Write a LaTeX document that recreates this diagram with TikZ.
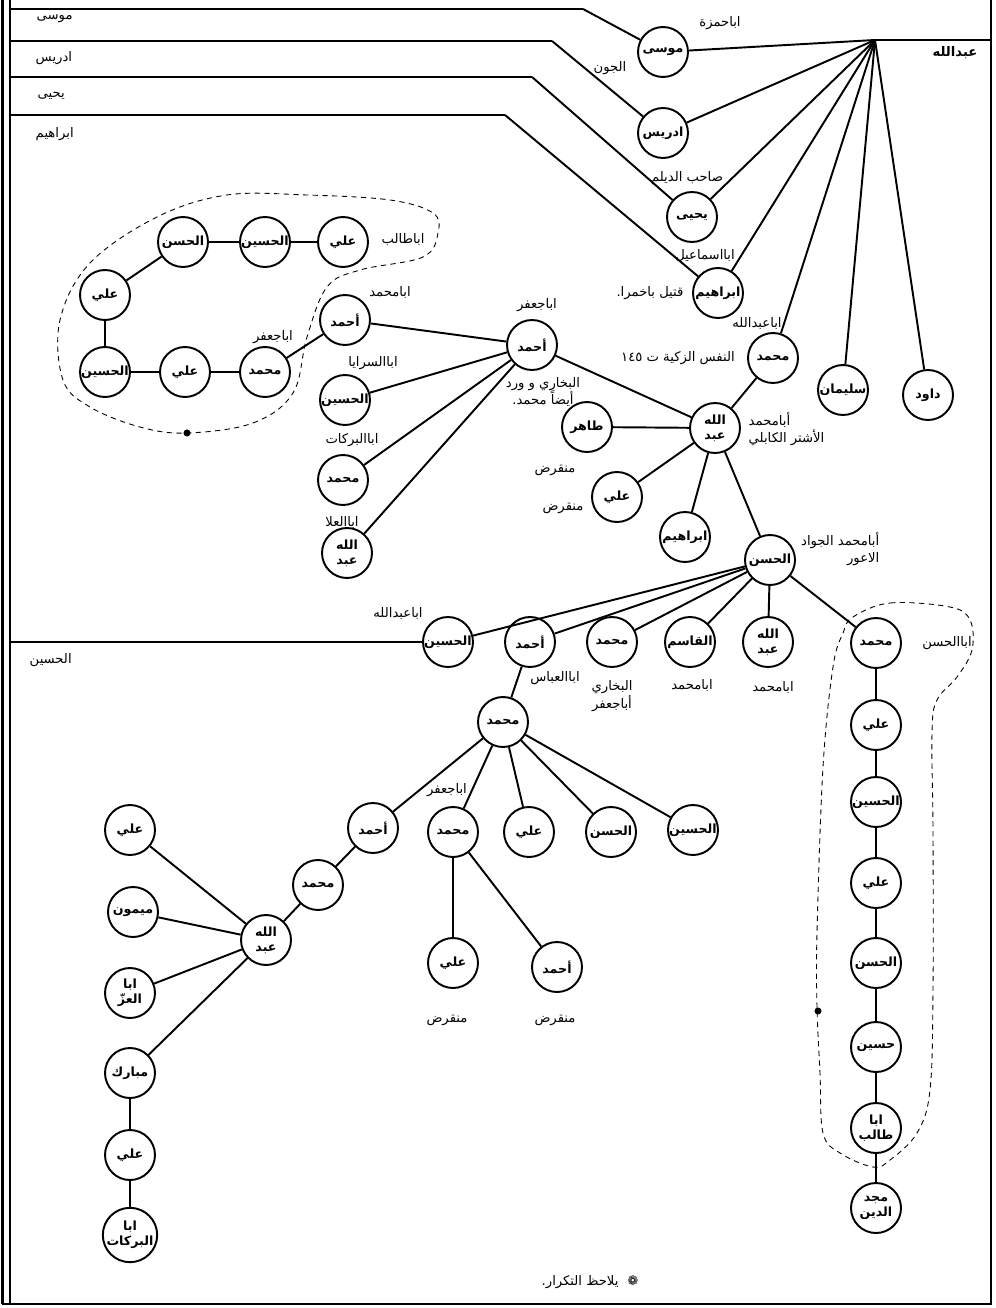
\documentclass[tikz,border=0pt]{standalone}
\usepackage{fontspec}
\newfontfamily\arabicfont[Script=Arabic]{DejaVu Sans}
\TeXXeTstate=1
\newcommand\ar[1]{\beginR#1\endR}

\begin{document}
\begin{tikzpicture}[x=0.02cm, y=-0.02cm, line width=1.1pt,
  every node/.style={draw, circle, minimum size=1cm, inner sep=0pt, align=center,
    font=\arabicfont\bfseries\fontsize{7.2}{8.5}\selectfont},
  lbl/.style={draw=none, rectangle, minimum size=0pt, inner sep=1pt,
    font=\arabicfont\fontsize{7.5}{10}\selectfont},
  grp/.style={line width=0.5pt, dash pattern=on 3pt off 2.5pt}]

\useasboundingbox (0,0) rectangle (996,1308);
\draw[line width=2pt] (2.5,0) -- (2.5,1304);
\draw[line width=0.7pt] (10,0) -- (10,1304);
\draw[line width=0.8pt] (2,1304) -- (991,1304) -- (991,0);

\coordinate (hub) at (875,40); \coordinate (hubE) at (991,40);
\node (mosa) at (663,52) {\ar{موسى}};      \node[lbl] at (720,23) {\ar{اباحمزة}};
\node (idris) at (663,133) {\ar{ادريس}};   \node[lbl] at (610,68) {\ar{الجون}};
\node (yahya) at (692,217) {\ar{يحيى}};    \node[lbl] at (687,178) {\ar{صاحب الديلم}};
\node (ibr1) at (718,293) {\ar{ابراهيم}};  \node[lbl] at (705,255) {\ar{ابااسماعيل}};
\node[lbl] at (650,293) {\ar{قتيل باخمرا.}};
\node (nafs) at (773,358) {\ar{محمد}};     \node[lbl] at (757,323) {\ar{اباعبدالله}};
\node[lbl] at (678,358) {\ar{النفس الزكية ت \beginL١٤٥\endL}};
\node (sulay) at (843,390) {\ar{سليمان}};
\node (dawud) at (928,395) {\ar{داود}};
\node[lbl, font=\arabicfont\bfseries\fontsize{7.5}{10}\selectfont] at (955,53) {\ar{عبدالله}};

\coordinate (s1) at (10,9);   \coordinate (k1) at (583,9);
\coordinate (s2) at (10,41);  \coordinate (k2) at (552,41);
\coordinate (s3) at (10,77);  \coordinate (k3) at (532,77);
\coordinate (s4) at (10,115); \coordinate (k4) at (505,115);
\node[lbl, anchor=west] at (34,19) {\ar{موسى}};
\node[lbl, anchor=west] at (33,58) {\ar{ادريس}};
\node[lbl, anchor=west] at (35,96) {\ar{يحيى}};
\node[lbl, anchor=west] at (33,134) {\ar{ابراهيم}};

\node (abd1) at (715,428) {\ar{الله}\\\ar{عبد}};
\node[lbl, anchor=west, align=left] at (746,429) {\ar{أبامحمد}\\\ar{الأشتر الكابلي}};
\node (tahir) at (587,427) {\ar{طاهر}};    \node[lbl] at (555,470) {\ar{منقرض}};
\node (ali10) at (617,497) {\ar{علي}};     \node[lbl] at (563,508) {\ar{منقرض}};
\node (ibr2) at (685,537) {\ar{ابراهيم}};
\node (hasan) at (770,560) {\ar{الحسن}};
\node[lbl, anchor=east, align=right] at (882,549) {\ar{أبامحمد الجواد}\\\ar{الاعور}};

\node (ahm2) at (532,345) {\ar{أحمد}};     \node[lbl] at (537,305) {\ar{اباجعفر}};
\node[lbl] at (543,392) {\ar{البخاري و ورد}\\\ar{أيضاً محمد.}};
\node (ahm1) at (345,320) {\ar{أحمد}};     \node[lbl] at (390,292) {\ar{ابامحمد}};
\node (hus3) at (345,400) {\ar{الحسين}};   \node[lbl] at (373,363) {\ar{اباالسرايا}};
\node (muh2) at (343,480) {\ar{محمد}};     \node[lbl] at (352,440) {\ar{اباالبركات}};
\node (abd2) at (347,553) {\ar{الله}\\\ar{عبد}}; \node[lbl] at (342,522) {\ar{اباالعلا}};

\node (ali1) at (343,242) {\ar{علي}};      \node[lbl] at (403,240) {\ar{اباطالب}};
\node (hus1) at (265,242) {\ar{الحسين}};
\node (has1) at (183,242) {\ar{الحسن}};
\node (ali2) at (105,295) {\ar{علي}};
\node (hus2) at (105,372) {\ar{الحسين}};
\node (ali3) at (185,372) {\ar{علي}};
\node (muh1) at (265,372) {\ar{محمد}};     \node[lbl] at (273,337) {\ar{اباجعفر}};

\node (hus4) at (448,642) {\ar{الحسين}};   \node[lbl] at (398,613) {\ar{اباعبدالله}};
\node (ahm3) at (530,642) {\ar{أحمد}};     \node[lbl] at (555,678) {\ar{اباالعباس}};
\node (muh3) at (612,642) {\ar{محمد}};     \node[lbl] at (612,696) {\ar{البخاري}\\\ar{أباجعفر}};
\node (qasim) at (690,642) {\ar{القاسم}};  \node[lbl] at (692,685) {\ar{ابامحمد}};
\node (abd3) at (768,642) {\ar{الله}\\\ar{عبد}}; \node[lbl] at (773,687) {\ar{ابامحمد}};
\coordinate (s5) at (10,642);
\node[lbl, anchor=west] at (27,660) {\ar{الحسين}};

\node (muh5) at (503,722) {\ar{محمد}};
\node (ahm4) at (373,828) {\ar{أحمد}};
\node (muh6) at (453,832) {\ar{محمد}};     \node[lbl] at (447,790) {\ar{اباجعفر}};
\node (ali4) at (529,832) {\ar{علي}};
\node (has2) at (611,832) {\ar{الحسن}};
\node (hus5) at (693,830) {\ar{الحسين}};
\node (ali5) at (453,963) {\ar{علي}};      \node[lbl] at (447,1020) {\ar{منقرض}};
\node (ahm5) at (557,967) {\ar{أحمد}};     \node[lbl] at (555,1020) {\ar{منقرض}};

\node (muh7) at (318,885) {\ar{محمد}};
\node (abd4) at (266,940) {\ar{الله}\\\ar{عبد}};
\node (ali6) at (130,830) {\ar{علي}};
\node (maym) at (133,912) {\ar{ميمون}};
\node (izz) at (130,993) {\ar{ابا}\\\ar{العزّ}};
\node (mub) at (130,1073) {\ar{مبارك}};
\node (ali7) at (130,1155) {\ar{علي}};
\node (bark) at (130,1235) {\ar{ابا}\\\ar{البركات}};

\node (muh4) at (876,643) {\ar{محمد}};     \node[lbl] at (947,643) {\ar{اباالحسن}};
\node (ali8) at (876,725) {\ar{علي}};
\node (hus6) at (876,802) {\ar{الحسين}};
\node (ali9) at (876,883) {\ar{علي}};
\node (has3) at (876,963) {\ar{الحسن}};
\node (hus7) at (876,1047) {\ar{حسين}};
\node (tal) at (876,1128) {\ar{ابا}\\\ar{طالب}};
\node (majd) at (876,1208) {\ar{مجد}\\\ar{الدين}};

\node[lbl] (note) at (590,1282) {\ar{❁\hspace{5pt}يلاحظ التكرار.}};

\foreach \i in {1,...,4} {
    \draw (s\i) -- (k\i);
}
\draw (k1) -- (mosa); \draw (k2) -- (idris); \draw (k3) -- (yahya); \draw (k4) -- (ibr1);
\draw (s5) -- (hus4);
\draw (hub) -- (hubE);
\foreach \n in {mosa,idris,yahya,ibr1,nafs,sulay,dawud} {
    \draw (hub) -- (\n);
}
\foreach \a/\b in {nafs/abd1, abd1/ahm2, abd1/tahir, abd1/ali10, abd1/ibr2, abd1/hasan,
    ahm2/ahm1, ahm2/hus3, ahm2/muh2, ahm2/abd2, ahm1/muh1,
    muh1/ali3, ali3/hus2, hus2/ali2, ali2/has1, has1/hus1, hus1/ali1,
    hasan/hus4, hasan/ahm3, hasan/muh3, hasan/qasim, hasan/abd3, hasan/muh4,
    ahm3/muh5, muh5/ahm4, muh5/muh6, muh5/ali4, muh5/has2, muh5/hus5,
    muh6/ali5, muh6/ahm5, ahm4/muh7, muh7/abd4,
    abd4/ali6, abd4/maym, abd4/izz, abd4/mub, mub/ali7, ali7/bark,
    muh4/ali8, ali8/hus6, hus6/ali9, ali9/has3, has3/hus7, hus7/tal, tal/majd} {
    \draw (\a) -- (\b);
}

\draw[grp] plot[smooth cycle, tension=0.6] coordinates {(187,433) (253,423) (293,393) (307,337)
    (327,287) (360,270) (423,257) (438,233) (433,213) (390,200) (307,195) (227,195) (157,217)
    (90,263) (60,320) (63,380) (90,407) (140,427)};
\draw[grp] plot[smooth cycle, tension=0.6] coordinates {(853,617) (890,603) (950,607) (970,620)
    (972,650) (957,677) (937,700) (932,733) (933,833) (933,990) (930,1090) (917,1133) (890,1160)
    (873,1167) (840,1153) (823,1133) (820,1073) (817,1007) (817,933) (823,767) (833,667) (843,633)};
\fill (187,433) circle (2pt);
\fill (818,1011) circle (2pt);

\end{tikzpicture}
\end{document}
